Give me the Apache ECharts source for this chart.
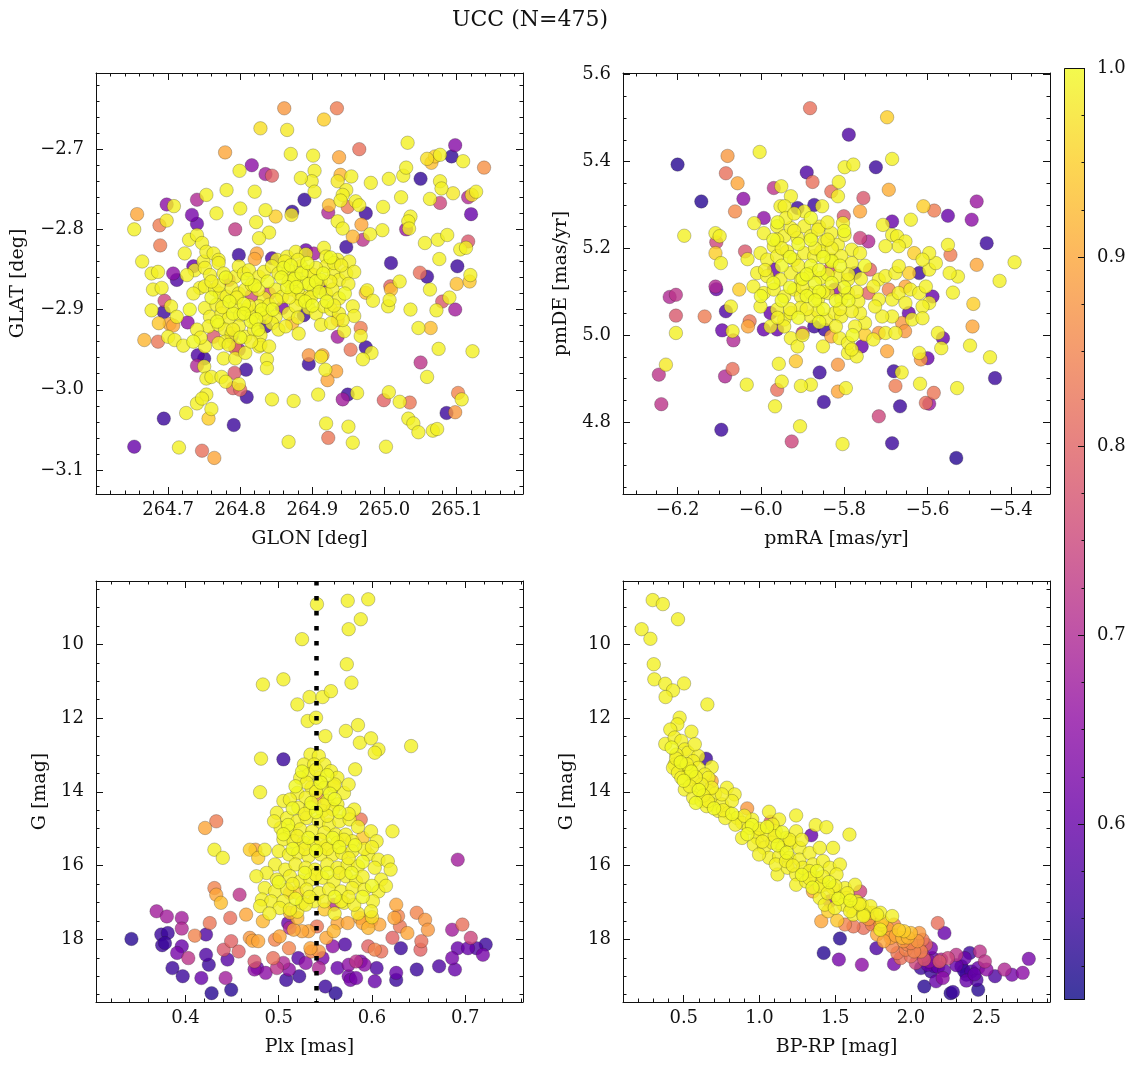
<!DOCTYPE html>
<html><head><meta charset="utf-8">
<script src="https://cdn.jsdelivr.net/npm/echarts@6/dist/echarts.min.js"></script>
<style>html,body{margin:0;padding:0;background:#fff}#c{width:1136px;height:1068px}</style>
</head><body><div id="c"></div>
<script>
// ---------------- DATA ----------------
const titleText = 'UCC (N=475)';
const probMin = 0.507, probMax = 1.0;
const plxCenter = 0.5425;
const glonTicks = [264.7, 264.8, 264.9, 265.0, 265.1];
const glatTicks = [-3.1, -3.0, -2.9, -2.8, -2.7];
const pmraTicks = [-6.2, -6.0, -5.8, -5.6, -5.4];
const pmdeTicks = [4.8, 5.0, 5.2, 5.4, 5.6];
const plxTicks = [0.4, 0.5, 0.6, 0.7];
const gTicks = [10, 12, 14, 16, 18];
const bprpTicks = [0.5, 1.0, 1.5, 2.0, 2.5];
const cbarTicks = [0.6, 0.7, 0.8, 0.9, 1.0];

// [GLON, GLAT, prob]
const posStars = [
[264.861,-2.649,0.88],[264.934,-2.649,0.84],[264.916,-2.663,0.95],[264.828,-2.674,0.97],[264.865,-2.676,0.98],[264.779,-2.704,0.9],[264.870,-2.706,0.99],[264.901,-2.708,0.99],[264.965,-2.700,0.82],[264.937,-2.710,0.9],[265.032,-2.692,0.99],[265.098,-2.695,0.64],[265.093,-2.709,0.54],[265.070,-2.709,0.95],[265.059,-2.712,0.97],[265.065,-2.717,0.93],[265.077,-2.707,0.99],[265.109,-2.715,0.99],[265.138,-2.723,0.87],[264.816,-2.720,0.65],[264.835,-2.731,0.68],[264.844,-2.733,0.8],[264.799,-2.727,0.99],[264.903,-2.727,0.99],[264.899,-2.740,0.99],[264.884,-2.736,0.99],[264.903,-2.753,0.99],[264.935,-2.740,0.98],[264.939,-2.732,0.92],[264.954,-2.734,0.99],[264.947,-2.751,0.99],[264.942,-2.757,0.99],[264.981,-2.742,0.99],[265.006,-2.737,0.99],[265.026,-2.733,0.99],[265.030,-2.723,0.99],[265.050,-2.737,0.54],[265.077,-2.740,0.99],[265.079,-2.749,0.99],[265.095,-2.755,0.98],[265.023,-2.760,0.99],[265.063,-2.762,0.99],[265.077,-2.767,0.75],[265.116,-2.760,0.7],[265.121,-2.757,0.97],[265.127,-2.753,0.99],[265.120,-2.781,0.6],[264.781,-2.751,0.99],[264.820,-2.753,0.99],[264.753,-2.757,0.99],[264.740,-2.763,0.7],[264.698,-2.769,0.65],[264.708,-2.771,0.99],[264.767,-2.780,0.99],[264.733,-2.782,0.62],[264.740,-2.793,0.6],[264.698,-2.789,0.98],[264.688,-2.795,0.84],[264.657,-2.781,0.9],[264.653,-2.800,0.99],[264.793,-2.800,0.73],[264.800,-2.774,0.99],[264.835,-2.776,0.99],[264.849,-2.784,0.95],[264.822,-2.791,0.99],[264.840,-2.804,0.99],[264.826,-2.811,0.99],[264.872,-2.778,0.54],[264.871,-2.782,0.98],[264.889,-2.763,0.54],[264.923,-2.770,0.93],[264.922,-2.779,0.7],[264.939,-2.764,0.99],[264.935,-2.790,0.99],[264.942,-2.799,0.99],[264.949,-2.772,0.84],[264.960,-2.765,0.99],[264.965,-2.770,0.99],[264.974,-2.780,0.55],[264.968,-2.794,0.9],[264.998,-2.772,0.99],[264.997,-2.801,0.99],[264.980,-2.806,0.99],[264.970,-2.813,0.72],[264.956,-2.809,0.92],[264.947,-2.822,0.55],[265.030,-2.800,0.67],[265.036,-2.784,0.99],[265.033,-2.790,0.99],[265.034,-2.799,0.99],[265.056,-2.817,0.99],[265.074,-2.813,0.99],[265.087,-2.807,0.99],[265.116,-2.815,0.78],[265.105,-2.825,0.99],[265.113,-2.823,0.99],[265.009,-2.842,0.55],[265.076,-2.837,0.99],[265.101,-2.846,0.55],[265.049,-2.854,0.82],[265.059,-2.859,0.55],[265.119,-2.857,0.99],[265.118,-2.865,0.94],[265.100,-2.868,0.93],[265.021,-2.865,0.99],[265.008,-2.871,0.8],[265.009,-2.875,0.93],[265.063,-2.875,0.99],[265.090,-2.885,0.99],[265.080,-2.890,0.78],[265.098,-2.900,0.68],[265.072,-2.901,0.99],[265.036,-2.900,0.99],[265.005,-2.896,0.99],[265.007,-2.888,0.99],[265.047,-2.923,0.99],[265.064,-2.923,0.93],[265.075,-2.949,0.99],[265.122,-2.952,0.99],[265.050,-2.966,0.72],[265.059,-2.984,0.99],[264.974,-2.879,0.92],[264.976,-2.876,0.99],[264.984,-2.889,0.99],[264.956,-2.896,0.99],[264.958,-2.908,0.99],[264.967,-2.923,0.84],[264.967,-2.933,0.99],[264.944,-2.927,0.99],[264.953,-2.950,0.83],[264.974,-2.947,0.55],[264.982,-2.954,0.99],[264.970,-2.962,0.99],[264.935,-2.934,0.68],[264.895,-2.957,0.88],[264.914,-2.957,0.9],[264.912,-2.959,0.98],[264.895,-2.968,0.55],[264.918,-2.975,0.99],[264.933,-2.977,0.9],[264.921,-2.988,0.9],[264.908,-3.006,0.99],[264.942,-3.012,0.68],[264.949,-3.006,0.55],[264.962,-3.004,0.99],[264.999,-3.013,0.8],[265.006,-3.003,0.99],[265.021,-3.015,0.99],[265.035,-3.016,0.83],[265.033,-3.036,0.99],[265.040,-3.042,0.99],[265.047,-3.053,0.99],[265.086,-3.029,0.55],[265.098,-3.028,0.88],[265.102,-3.004,0.85],[265.107,-3.012,0.99],[265.067,-3.051,0.99],[265.073,-3.049,0.99],[264.919,-3.042,0.99],[264.922,-3.060,0.83],[264.950,-3.046,0.99],[264.956,-3.066,0.99],[265.002,-3.071,0.99],[264.867,-3.065,0.99],[264.874,-3.014,0.99],[264.844,-3.012,0.99],[264.809,-3.009,0.55],[264.791,-3.044,0.55],[264.760,-3.024,0.99],[264.756,-3.036,0.95],[264.740,-3.017,0.99],[264.753,-3.006,0.99],[264.747,-3.011,0.99],[264.725,-3.029,0.99],[264.694,-3.036,0.55],[264.653,-3.071,0.6],[264.715,-3.072,0.99],[264.747,-3.076,0.82],[264.764,-3.085,0.9],
[264.664,-2.840,0.99],[264.677,-2.855,0.99],[264.686,-2.853,0.99],[264.679,-2.875,0.99],[264.691,-2.873,0.99],[264.689,-2.820,0.84],[264.723,-2.830,0.99],[264.729,-2.813,0.99],[264.740,-2.807,0.99],[264.747,-2.817,0.99],[264.707,-2.855,0.65],[264.712,-2.863,0.57],[264.735,-2.846,0.6],[264.737,-2.851,0.99],[264.749,-2.840,0.99],[264.726,-2.857,0.99],[264.677,-2.901,0.99],[264.695,-2.889,0.75],[264.694,-2.903,0.55],[264.704,-2.896,0.99],[264.712,-2.909,0.99],[264.702,-2.918,0.9],[264.707,-2.920,0.9],[264.687,-2.917,0.94],[264.727,-2.916,0.65],[264.667,-2.938,0.92],[264.686,-2.940,0.83],[264.700,-2.934,0.99],[264.709,-2.938,0.99],[264.721,-2.945,0.99],[264.741,-2.957,0.57],[264.750,-2.961,0.55],[264.740,-2.970,0.7],[264.750,-2.971,0.99],[264.753,-2.986,0.99],[264.760,-2.984,0.99],[264.774,-2.984,0.99],[264.780,-2.990,0.99],[264.792,-2.979,0.78],[264.790,-2.998,0.8],[264.800,-3.000,0.8],[264.798,-2.993,0.99],[264.808,-2.975,0.55],[264.777,-2.961,0.99],[264.793,-2.961,0.99],[264.793,-2.948,0.82],[264.837,-2.962,0.99],[264.837,-2.973,0.99],[264.826,-2.946,0.99],
[264.753,-2.828,0.99],[264.763,-2.830,0.99],[264.770,-2.838,0.99],[264.798,-2.832,0.55],[264.823,-2.830,0.9],[264.820,-2.837,0.9],[264.844,-2.836,0.57],[264.851,-2.838,0.99],[264.865,-2.834,0.99],[264.877,-2.828,0.99],[264.891,-2.831,0.99],[264.902,-2.830,0.68],[264.916,-2.823,0.99],[264.919,-2.834,0.99],[264.935,-2.838,0.99],[264.951,-2.840,0.99],[264.891,-2.826,0.6],
[264.751,-2.848,0.99],[264.758,-2.857,0.99],[264.770,-2.842,0.99],[264.777,-2.855,0.99],[264.784,-2.863,0.75],[264.793,-2.859,0.99],[264.798,-2.846,0.99],[264.805,-2.855,0.99],[264.812,-2.851,0.99],[264.826,-2.859,0.99],[264.833,-2.853,0.99],[264.844,-2.846,0.99],[264.853,-2.855,0.99],[264.867,-2.851,0.99],[264.877,-2.859,0.99],[264.884,-2.846,0.99],[264.895,-2.853,0.99],[264.902,-2.857,0.99],[264.912,-2.863,0.99],[264.919,-2.846,0.99],[264.930,-2.855,0.99],[264.937,-2.863,0.99],[264.947,-2.855,0.99],[264.958,-2.853,0.99],[264.930,-2.842,0.99],
[264.744,-2.873,0.99],[264.751,-2.871,0.99],[264.765,-2.875,0.99],[264.772,-2.880,0.99],[264.781,-2.884,0.99],[264.788,-2.873,0.99],[264.798,-2.880,0.99],[264.807,-2.875,0.99],[264.816,-2.882,0.75],[264.816,-2.869,0.99],[264.833,-2.886,0.99],[264.840,-2.880,0.75],[264.849,-2.875,0.99],[264.858,-2.884,0.99],[264.867,-2.865,0.99],[264.872,-2.875,0.99],[264.881,-2.880,0.99],[264.888,-2.867,0.99],[264.895,-2.884,0.99],[264.902,-2.875,0.99],[264.912,-2.873,0.6],[264.919,-2.880,0.99],[264.928,-2.875,0.99],[264.937,-2.886,0.99],[264.884,-2.888,0.99],
[264.751,-2.898,0.99],[264.758,-2.909,0.99],[264.767,-2.894,0.99],[264.774,-2.905,0.99],[264.784,-2.911,0.99],[264.793,-2.896,0.99],[264.800,-2.907,0.99],[264.809,-2.900,0.99],[264.816,-2.909,0.99],[264.826,-2.896,0.99],[264.830,-2.905,0.99],[264.840,-2.894,0.99],[264.849,-2.909,0.99],[264.858,-2.898,0.62],[264.867,-2.905,0.99],[264.877,-2.896,0.99],[264.888,-2.907,0.55],[264.895,-2.898,0.99],[264.905,-2.905,0.99],[264.916,-2.896,0.99],[264.926,-2.900,0.99],[264.937,-2.905,0.99],[264.942,-2.913,0.99],
[264.756,-2.921,0.99],[264.770,-2.919,0.99],[264.779,-2.925,0.99],[264.788,-2.930,0.99],[264.798,-2.921,0.99],[264.807,-2.934,0.99],[264.819,-2.925,0.99],[264.828,-2.932,0.99],[264.835,-2.921,0.55],[264.844,-2.917,0.99],[264.853,-2.925,0.99],[264.863,-2.921,0.99],[264.872,-2.917,0.92],[264.881,-2.930,0.99],[264.912,-2.919,0.99],[264.926,-2.917,0.99],[264.935,-2.913,0.9],[264.763,-2.934,0.78],[264.779,-2.940,0.99],[264.788,-2.934,0.65],
[264.751,-2.946,0.99],[264.770,-2.942,0.99],[264.784,-2.944,0.99],[264.798,-2.950,0.65],[264.807,-2.954,0.99],[264.828,-2.944,0.99],[264.840,-2.946,0.99],
[264.805,-2.893,1.0],[264.815,-2.915,1.0],[264.790,-2.905,1.0],[264.875,-2.862,1.0],[264.885,-2.855,1.0],[264.895,-2.868,1.0],[264.865,-2.872,1.0],[264.905,-2.865,1.0],[264.860,-2.848,1.0],[264.820,-2.870,1.0],[264.830,-2.900,1.0],[264.760,-2.885,1.0],[264.890,-2.890,1.0],
[264.785,-2.890,1.0],[264.795,-2.885,0.99],[264.805,-2.905,1.0],[264.812,-2.895,0.99],[264.822,-2.912,1.0],[264.775,-2.897,0.99],[264.768,-2.915,1.0],[264.790,-2.925,0.99],[264.800,-2.935,1.0],[264.815,-2.940,0.99],[264.825,-2.925,1.0],[264.835,-2.910,0.99],[264.845,-2.900,1.0],[264.770,-2.870,0.99],[264.780,-2.860,1.0],[264.760,-2.865,0.99],[264.810,-2.862,1.0],[264.825,-2.875,0.99],[264.838,-2.865,1.0],[264.850,-2.888,0.99],
[264.870,-2.845,1.0],[264.880,-2.838,0.99],[264.893,-2.842,1.0],[264.905,-2.848,0.99],[264.915,-2.855,1.0],[264.925,-2.865,0.99],[264.910,-2.878,1.0],[264.898,-2.885,0.99],[264.878,-2.872,1.0],[264.868,-2.885,0.99],[264.857,-2.860,1.0],[264.862,-2.840,0.99],[264.920,-2.890,1.0],[264.930,-2.895,0.99],[264.945,-2.880,1.0],[264.950,-2.868,0.99],[264.900,-2.895,1.0],[264.880,-2.910,0.99],[264.925,-2.835,1.0],[264.940,-2.845,0.99],
[264.735,-2.880,0.99],[264.730,-2.900,1.0],[264.740,-2.925,0.99],[264.735,-2.940,1.0],[264.745,-2.935,0.99]
];

// [pmRA, pmDE, prob]
const pmStars = [
[-5.882,5.523,0.82],[-5.697,5.502,0.95],[-5.789,5.462,0.57],[-6.200,5.393,0.53],[-6.080,5.413,0.88],[-6.003,5.422,0.99],[-6.084,5.373,0.82],[-6.056,5.350,0.9],[-5.890,5.375,0.57],[-5.876,5.353,0.82],[-5.799,5.387,0.99],[-5.778,5.393,0.99],[-5.813,5.353,0.99],[-5.815,5.320,0.99],[-5.831,5.331,0.82],[-5.724,5.387,0.55],[-5.685,5.406,0.99],[-5.693,5.335,0.91],[-5.754,5.316,0.78],[-6.143,5.308,0.53],[-6.042,5.314,0.65],[-6.062,5.285,0.86],[-6.016,5.258,0.99],[-6.184,5.229,0.99],[-6.109,5.235,0.99],[-6.099,5.228,0.99],[-6.107,5.214,0.75],[-6.109,5.189,0.95],[-6.096,5.166,0.99],[-6.038,5.193,0.78],[-6.032,5.175,0.99],[-5.969,5.339,0.72],[-5.951,5.343,0.99],[-5.928,5.320,0.99],[-5.953,5.297,0.99],[-5.943,5.297,0.99],[-5.912,5.293,0.55],[-5.896,5.285,0.99],[-5.872,5.300,0.55],[-5.853,5.297,0.99],[-5.762,5.285,0.9],[-5.801,5.274,0.78],[-5.803,5.258,0.99],[-5.742,5.216,0.7],[-5.762,5.224,0.75],[-5.685,5.262,0.6],[-5.707,5.254,0.99],[-5.640,5.266,0.99],[-5.610,5.297,0.95],[-5.584,5.287,0.84],[-5.551,5.275,0.6],[-5.494,5.266,0.65],[-5.482,5.308,0.67],[-5.458,5.212,0.55],[-5.551,5.208,0.99],[-5.545,5.185,0.84],[-5.482,5.162,0.9],[-5.391,5.168,0.99],[-5.427,5.125,0.99],[-5.527,5.135,0.99],[-5.547,5.143,0.99],[-5.539,5.098,0.99],[-5.490,5.072,0.95],[-5.492,5.020,0.9],[-5.498,4.976,0.99],[-5.450,4.949,0.99],[-5.438,4.901,0.55],[-5.529,4.878,0.99],[-5.585,4.867,0.83],[-5.604,4.844,0.82],[-5.596,4.842,0.67],[-5.531,4.717,0.53],[-5.717,4.813,0.75],[-5.666,4.836,0.55],[-5.677,4.883,0.84],[-5.681,4.917,0.55],[-5.662,4.914,0.99],[-5.618,4.888,0.99],[-5.685,4.751,0.55],[-5.906,4.790,0.99],[-5.926,4.755,0.75],[-5.804,4.749,0.99],[-6.095,4.782,0.55],[-6.239,4.841,0.72],[-6.245,4.909,0.72],[-6.228,4.932,0.98],[-6.086,4.905,0.7],[-6.068,4.922,0.82],[-6.034,4.886,0.99],[-5.966,4.836,0.99],[-5.961,4.874,0.82],[-5.950,4.893,0.99],[-5.849,4.846,0.55],[-5.815,4.870,0.9],[-5.796,4.878,0.99],[-5.859,4.914,0.55],[-5.880,4.886,0.99],[-5.904,4.883,0.99],[-5.916,4.940,0.94],[-5.957,4.934,0.99],[-6.204,5.093,0.72],[-6.219,5.088,0.7],[-6.204,5.045,0.78],[-6.204,5.005,0.99],[-6.135,5.043,0.84],[-6.109,5.112,0.7],[-6.107,5.106,0.6],[-6.084,5.055,0.57],[-6.072,5.066,0.99],[-6.093,5.011,0.6],[-6.068,5.009,0.99],[-6.066,4.988,0.7],[-6.052,5.105,0.95],[-6.031,5.020,0.9],[-6.027,5.032,0.83],
[-5.738,5.151,0.8],[-5.717,5.128,0.99],[-5.701,5.136,0.99],[-5.677,5.143,0.99],[-5.669,5.159,0.99],[-5.644,5.143,0.95],[-5.620,5.143,0.55],[-5.596,5.151,0.99],[-5.580,5.166,0.99],[-5.596,5.189,0.99],[-5.612,5.174,0.99],[-5.685,5.231,0.99],[-5.673,5.228,0.99],[-5.653,5.216,0.99],[-5.669,5.205,0.99],[-5.632,5.189,0.95],[-5.701,5.205,0.99],[-5.742,5.097,0.8],[-5.730,5.112,0.99],[-5.717,5.082,0.99],[-5.693,5.105,0.85],[-5.685,5.082,0.99],[-5.669,5.097,0.99],[-5.653,5.112,0.9],[-5.641,5.105,0.99],[-5.620,5.097,0.99],[-5.604,5.112,0.99],[-5.588,5.089,0.6],[-5.596,5.074,0.99],[-5.612,5.066,0.99],[-5.653,5.074,0.99],[-5.645,5.051,0.6],[-5.637,5.036,0.99],[-5.661,5.028,0.88],[-5.685,5.043,0.99],[-5.709,5.043,0.99],[-5.726,5.066,0.99],[-5.717,5.005,0.88],[-5.701,5.005,0.99],[-5.677,5.005,0.99],[-5.654,5.009,0.88],[-5.697,4.963,0.9],[-5.620,4.959,0.99],[-5.616,4.944,0.88],[-5.600,4.947,0.6],[-5.575,5.005,0.99],[-5.563,4.993,0.6],[-5.567,4.970,0.99],[-5.612,5.039,0.99],[-5.758,4.974,0.6],[-5.750,5.001,0.95],[-5.730,4.990,0.99],[-5.750,5.028,0.99],[-5.762,5.051,0.99],[-5.815,4.932,0.88],[-5.791,4.959,0.99],[-5.770,4.951,0.99],
[-5.993,5.235,0.99],[-5.969,5.205,0.99],[-5.961,5.251,0.99],[-5.944,5.228,0.99],[-5.928,5.247,0.99],[-5.912,5.224,0.99],[-5.896,5.251,0.99],[-5.880,5.228,0.99],[-5.863,5.243,0.99],[-5.847,5.216,0.99],[-5.831,5.235,0.99],[-5.815,5.208,0.99],[-5.799,5.231,0.99],[-5.782,5.197,0.99],[-5.762,5.189,0.99],[-6.001,5.189,0.99],[-5.985,5.174,0.99],[-5.961,5.182,0.99],[-5.937,5.193,0.99],[-5.920,5.174,0.99],[-5.896,5.189,0.99],[-5.872,5.182,0.99],[-5.855,5.193,0.99],[-5.831,5.174,0.99],[-5.807,5.182,0.99],[-5.782,5.166,0.99],[-6.009,5.143,0.99],[-5.985,5.136,0.99],[-5.969,5.151,0.6],[-5.953,5.128,0.99],[-5.928,5.143,0.99],[-5.904,5.128,0.99],[-5.880,5.143,0.99],[-5.855,5.132,0.99],[-5.835,5.151,0.75],[-5.815,5.136,0.99],[-5.791,5.128,0.99],[-5.774,5.143,0.55],[-6.018,5.112,0.99],[-5.993,5.097,0.99],[-5.969,5.105,0.99],[-5.944,5.089,0.99],[-5.920,5.105,0.99],[-5.904,5.089,0.99],[-5.880,5.097,0.99],[-5.863,5.082,0.99],[-5.839,5.097,0.99],[-5.823,5.105,0.65],[-5.807,5.082,0.99],[-5.791,5.097,0.99],[-5.766,5.078,0.99],[-6.001,5.066,0.99],[-5.977,5.051,0.6],[-5.961,5.059,0.99],[-5.944,5.036,0.99],[-5.928,5.051,0.99],[-5.904,5.063,0.99],[-5.880,5.043,0.99],[-5.863,5.055,0.99],[-5.843,5.036,0.99],[-5.823,5.051,0.99],[-5.807,5.043,0.99],[-5.782,5.055,0.99],[-5.993,5.013,0.6],[-5.977,5.020,0.99],[-5.961,5.013,0.6],[-5.944,5.020,0.99],[-5.928,4.993,0.99],[-5.912,4.974,0.99],[-5.900,5.005,0.7],[-5.872,5.020,0.55],[-5.847,5.013,0.55],[-5.851,4.974,0.99],[-5.831,4.997,0.9],[-5.811,4.993,0.99],[-5.791,4.982,0.99],[-5.782,4.967,0.99],[-5.774,5.020,0.99],[-5.961,5.220,0.99],[-5.993,5.270,0.65],
[-5.870,5.120,1.0],[-5.860,5.100,1.0],[-5.840,5.140,1.0],[-5.890,5.090,1.0],[-5.820,5.080,1.0],[-5.900,5.130,1.0],[-5.930,5.110,1.0],[-5.850,5.060,1.0],[-5.800,5.110,1.0],[-5.950,5.160,1.0],[-5.880,5.160,1.0],[-5.830,5.170,1.0],[-5.910,5.210,1.0],[-5.860,5.250,0.98],[-5.940,5.270,0.99],
[-5.970,5.220,1.0],[-5.950,5.200,0.99],[-5.930,5.180,1.0],[-5.910,5.160,0.99],[-5.890,5.140,1.0],[-5.870,5.200,0.99],[-5.850,5.180,1.0],[-5.830,5.200,0.99],[-5.810,5.160,1.0],[-5.790,5.140,0.99],[-5.950,5.080,1.0],[-5.930,5.060,0.99],[-5.910,5.040,1.0],[-5.890,5.060,0.99],[-5.870,5.080,1.0],[-5.850,5.100,0.99],[-5.830,5.120,1.0],[-5.810,5.060,0.99],[-5.790,5.080,1.0],[-5.770,5.100,0.99],[-5.970,5.120,1.0],[-5.990,5.150,0.99],[-5.960,5.260,1.0],[-5.920,5.280,0.99],[-5.880,5.270,1.0],[-5.840,5.260,0.99],[-5.800,5.240,1.0],[-5.900,5.000,0.99],[-5.860,5.030,1.0],[-5.820,5.020,0.99],[-5.780,5.000,1.0],[-5.760,5.130,0.99],[-5.750,5.160,1.0],[-5.960,5.040,0.99],[-6.000,5.090,1.0],[-5.920,5.240,0.99],[-5.880,5.220,1.0],[-5.840,5.220,0.99],[-5.860,5.150,1.0],[-5.900,5.110,0.99]
];

// [Plx, G, prob]
const plxStars = [
[0.541,8.91,0.99],[0.574,8.82,0.99],[0.596,8.78,0.99],[0.588,9.32,0.99],[0.575,9.59,0.99],[0.525,9.86,0.99],[0.573,10.54,0.99],[0.578,11.04,0.99],[0.505,10.95,0.99],[0.483,11.09,0.99],[0.533,11.43,0.99],[0.547,11.43,0.99],[0.556,11.27,0.99],[0.520,11.63,0.99],[0.531,12.08,0.99],[0.540,11.99,0.99],[0.572,12.35,0.99],[0.585,12.19,0.99],[0.550,12.49,0.99],[0.587,12.67,0.99],[0.599,12.55,0.99],[0.607,12.85,0.99],[0.603,12.94,0.99],[0.642,12.76,0.99],[0.481,13.10,0.99],[0.505,13.12,0.55],[0.582,13.39,0.99],[0.480,14.01,0.99],
[0.534,12.99,0.99],[0.543,13.03,0.99],[0.527,13.26,0.99],[0.538,13.26,0.99],[0.549,13.26,0.99],[0.556,13.44,0.99],[0.532,13.53,0.99],[0.523,13.62,0.99],[0.544,13.62,0.99],[0.563,13.62,0.99],[0.535,13.89,0.99],[0.549,13.89,0.99],[0.559,13.85,0.99],[0.570,14.03,0.99],[0.520,14.03,0.99],[0.529,14.16,0.99],[0.541,14.16,0.85],[0.552,14.25,0.99],[0.563,14.34,0.99],[0.505,14.25,0.99],[0.512,14.21,0.99],[0.521,14.43,0.99],[0.534,14.43,0.99],[0.547,14.52,0.99],[0.558,14.48,0.99],[0.581,14.48,0.99],[0.498,14.57,0.99],[0.509,14.71,0.99],[0.520,14.80,0.99],[0.530,14.71,0.99],[0.543,14.80,0.99],[0.554,14.89,0.99],[0.565,14.80,0.99],[0.576,14.75,0.99],[0.588,14.75,0.83],[0.502,14.98,0.99],[0.512,15.07,0.99],[0.523,15.02,0.99],[0.536,15.07,0.99],[0.549,15.11,0.99],[0.561,15.16,0.99],[0.572,15.16,0.99],[0.599,15.07,0.99],[0.622,15.07,0.99],[0.505,15.29,0.99],[0.516,15.34,0.99],[0.527,15.38,0.99],[0.538,15.43,0.99],[0.550,15.48,0.99],[0.563,15.38,0.99],[0.579,15.34,0.99],[0.590,15.25,0.94],[0.605,15.34,0.99],[0.431,15.57,0.99],[0.440,15.79,0.99],[0.469,15.57,0.95],[0.475,15.57,0.9],[0.485,15.57,0.99],[0.478,15.79,0.95],[0.500,15.61,0.99],[0.511,15.70,0.99],[0.521,15.66,0.99],[0.532,15.75,0.99],[0.545,15.70,0.99],[0.558,15.70,0.99],[0.568,15.66,0.99],[0.579,15.61,0.99],[0.596,15.70,0.99],[0.496,15.97,0.99],[0.507,16.11,0.99],[0.518,15.97,0.99],[0.529,16.06,0.99],[0.539,16.11,0.99],[0.552,15.97,0.99],[0.563,16.06,0.99],[0.574,15.97,0.99],[0.585,16.02,0.99],[0.607,15.84,0.99],[0.617,15.88,0.99],[0.620,16.11,0.99],[0.603,16.06,0.99],[0.487,16.20,0.99],[0.476,16.29,0.99],[0.498,16.38,0.99],[0.512,16.29,0.99],[0.523,16.43,0.99],[0.534,16.38,0.99],[0.547,16.33,0.99],[0.559,16.43,0.99],[0.572,16.29,0.99],[0.583,16.43,0.99],[0.610,16.38,0.99],[0.485,16.61,0.99],[0.496,16.70,0.99],[0.509,16.65,0.99],[0.520,16.74,0.95],[0.530,16.65,0.99],[0.543,16.74,0.99],[0.554,16.65,0.99],[0.567,16.70,0.99],[0.579,16.61,0.99],[0.592,16.65,0.99],[0.607,16.70,0.99],[0.482,16.92,0.99],[0.492,16.97,0.99],[0.505,16.97,0.99],[0.512,16.74,0.9],[0.525,17.01,0.99],[0.538,16.97,0.99],[0.549,16.97,0.99],[0.559,17.06,0.7],[0.570,17.01,0.99],[0.581,17.06,0.99],[0.601,16.97,0.99],[0.480,17.10,0.99],[0.501,17.15,0.99],[0.512,17.19,0.99],[0.529,17.06,0.99],[0.549,17.19,0.94],[0.599,17.24,0.99],[0.567,16.97,0.99],
[0.525,13.45,1.0],[0.540,13.40,0.99],[0.552,13.55,1.0],[0.530,13.75,0.99],[0.545,13.75,1.0],[0.560,13.80,0.99],[0.518,13.85,1.0],[0.540,14.00,0.99],[0.555,14.05,1.0],[0.575,13.80,0.99],
[0.515,14.45,1.0],[0.528,14.60,0.99],[0.540,14.55,1.0],[0.552,14.65,0.99],[0.565,14.55,1.0],[0.575,14.60,0.99],[0.535,14.30,1.0],[0.548,14.35,0.99],[0.560,14.20,1.0],[0.585,14.95,0.99],[0.510,14.90,1.0],[0.495,14.80,0.99],
[0.505,15.15,1.0],[0.520,15.20,0.99],[0.532,15.25,1.0],[0.545,15.30,0.99],[0.558,15.25,1.0],[0.570,15.30,0.99],[0.582,15.45,1.0],[0.592,15.55,0.99],[0.515,15.55,1.0],[0.528,15.55,0.99],[0.540,15.60,1.0],[0.552,15.55,0.99],[0.565,15.50,1.0],[0.575,15.80,0.99],[0.590,15.90,1.0],[0.600,15.50,0.99],
[0.500,16.45,1.0],[0.515,16.50,0.99],[0.528,16.20,1.0],[0.540,16.25,0.99],[0.552,16.20,1.0],[0.565,16.20,0.99],[0.578,16.20,1.0],[0.590,16.30,0.99],[0.600,16.55,1.0],[0.615,16.55,0.99],[0.518,16.90,1.0],[0.533,16.85,0.99],[0.560,16.85,1.0],[0.575,16.85,0.99],[0.590,16.85,1.0],
[0.490,17.30,0.99],[0.520,17.25,0.98],[0.560,17.30,0.99],[0.585,17.30,0.98],[0.600,17.40,0.97],
[0.433,14.80,0.84],[0.421,14.98,0.9],[0.431,16.61,0.85],[0.433,16.79,0.9],[0.438,17.01,0.93],[0.458,16.79,0.72],[0.465,17.33,0.9],[0.483,17.51,0.92],[0.448,17.42,0.82],[0.426,17.56,0.83],[0.369,17.24,0.68],[0.380,17.38,0.68],[0.396,17.42,0.68],[0.396,17.71,0.7],[0.410,17.90,0.85],[0.422,17.87,0.57],[0.374,17.87,0.55],[0.381,17.83,0.55],[0.342,17.99,0.53],[0.375,18.16,0.55],[0.378,18.10,0.55],[0.396,18.19,0.6],[0.391,18.37,0.62],[0.403,18.51,0.72],[0.386,18.78,0.55],[0.397,19.00,0.55],[0.417,19.05,0.6],[0.422,18.42,0.57],[0.425,18.69,0.55],[0.428,19.46,0.53],[0.449,19.37,0.53],[0.443,19.05,0.68],[0.441,18.28,0.78],[0.449,18.05,0.8],[0.457,18.33,0.8],[0.445,18.55,0.58],[0.472,18.04,0.9],[0.478,18.05,0.9],[0.474,18.60,0.78],[0.477,18.78,0.6],[0.486,18.91,0.65],[0.474,18.82,0.65],[0.496,18.01,0.85],[0.501,17.92,0.9],[0.494,18.51,0.82],[0.505,18.64,0.7],[0.508,19.10,0.55],[0.498,18.78,0.72],[0.511,18.24,0.85],[0.521,18.51,0.58],[0.522,19.00,0.55],[0.529,18.64,0.65],[0.534,18.24,0.9],[0.535,18.33,0.85],[0.543,18.33,0.88],[0.541,17.65,0.83],[0.532,17.78,0.9],[0.525,17.78,0.9],[0.516,17.74,0.9],[0.512,17.69,0.7],[0.510,17.56,0.6],[0.520,17.42,0.92],[0.512,17.28,0.92],[0.551,17.96,0.9],[0.559,17.78,0.92],[0.563,17.56,0.9],[0.547,18.51,0.62],[0.550,19.28,0.55],[0.561,19.46,0.53],[0.558,18.19,0.65],[0.571,18.14,0.57],[0.575,18.69,0.65],[0.575,19.00,0.62],[0.577,19.10,0.62],[0.583,18.60,0.72],[0.583,19.05,0.62],[0.592,18.69,0.65],[0.587,17.42,0.9],[0.590,17.56,0.9],[0.596,17.69,0.92],[0.599,17.51,0.88],[0.608,17.60,0.9],[0.574,17.56,0.9],[0.596,18.19,0.8],[0.603,18.28,0.85],[0.610,18.33,0.82],[0.605,18.78,0.57],[0.603,19.14,0.6],[0.622,17.96,0.8],[0.624,17.42,0.9],[0.626,17.06,0.9],[0.628,17.37,0.85],[0.630,17.65,0.83],[0.631,18.24,0.55],[0.626,18.91,0.6],[0.626,19.10,0.55],[0.638,17.83,0.9],[0.648,17.28,0.85],[0.648,18.82,0.55],[0.652,18.28,0.8],[0.653,18.05,0.82],[0.657,17.47,0.88],[0.660,17.74,0.88],[0.672,18.73,0.57],[0.686,17.74,0.68],[0.686,18.51,0.62],[0.689,18.82,0.6],[0.692,18.24,0.6],[0.697,17.60,0.82],[0.706,17.96,0.75],[0.703,18.24,0.6],[0.712,18.24,0.57],[0.719,18.42,0.62],[0.722,18.14,0.55],[0.692,15.84,0.68],[0.588,18.60,0.62],[0.563,18.78,0.6],[0.511,18.82,0.65],[0.469,17.96,0.88],[0.543,18.78,0.7]
];

// [BP-RP, G, prob]
const cmdStars = [
[0.295,8.80,0.99],[0.362,8.91,0.99],[0.462,9.32,0.99],[0.222,9.59,0.99],[0.280,9.85,0.99],[0.302,10.54,0.99],[0.306,10.95,0.99],[0.378,11.07,0.99],[0.502,11.06,0.99],[0.429,11.25,0.99],[0.380,11.43,0.99],[0.656,11.63,0.99],[0.473,11.99,0.99],[0.458,12.17,0.99],[0.411,12.31,0.99],[0.551,12.37,0.99],[0.378,12.70,0.99],[0.440,12.53,0.99],[0.484,12.62,0.99],[0.507,12.85,0.99],[0.529,12.94,0.99],[0.451,12.99,0.99],[0.596,13.03,0.99],[0.647,13.10,0.55],[0.440,13.26,0.99],[0.496,13.26,0.99],[0.562,13.17,0.99],[0.685,13.33,0.99],[0.429,13.35,0.99],[0.462,13.48,0.99],[0.529,13.53,0.99],[0.596,13.35,0.99],[0.562,13.67,0.99],[0.640,13.53,0.99],[0.685,13.71,0.9],[0.663,13.62,0.99],[0.507,13.94,0.99],[0.596,13.89,0.99],[0.663,13.98,0.99],[0.707,14.05,0.99],[0.785,13.89,0.99],[0.836,14.07,0.99],[0.562,14.16,0.99],[0.618,14.25,0.99],[0.685,14.34,0.99],[0.752,14.34,0.99],[0.818,14.25,0.99],[0.729,14.52,0.99],[0.796,14.57,0.99],[0.852,14.71,0.99],[0.919,14.45,0.88],[0.885,14.84,0.99],[0.952,14.75,0.99],[1.063,14.54,0.99],[1.130,14.75,0.99],[1.242,14.64,0.99],[1.074,14.81,0.8],[0.930,14.98,0.99],[0.997,15.07,0.99],[0.986,15.25,0.99],[1.052,15.16,0.99],[1.108,15.07,0.99],[1.175,15.25,0.99],[1.242,15.07,0.99],[0.963,15.43,0.99],[1.030,15.52,0.99],[1.086,15.38,0.99],[1.152,15.52,0.99],[1.208,15.38,0.99],[1.264,15.52,0.99],[1.371,14.90,0.99],[1.442,14.96,0.99],[1.342,15.18,0.6],[1.594,15.16,0.99],[1.063,15.79,0.99],[1.130,15.75,0.99],[1.197,15.79,0.99],[1.264,15.84,0.99],[1.331,15.66,0.99],[1.398,15.52,0.99],[1.486,15.52,0.99],[1.119,16.24,0.99],[1.186,16.06,0.99],[1.242,16.24,0.99],[1.286,16.06,0.99],[1.353,15.97,0.99],[1.420,15.88,0.99],[1.464,16.06,0.99],[1.531,15.97,0.99],[1.242,16.52,0.99],[1.308,16.43,0.99],[1.375,16.33,0.99],[1.431,16.52,0.99],[1.509,16.24,0.99],[1.564,16.61,0.99],[1.631,16.52,0.99],[1.665,16.70,0.75],[1.353,16.70,0.9],[1.398,16.88,0.99],[1.464,16.97,0.7],[1.431,17.06,0.99],[1.509,16.83,0.99],[1.575,16.88,0.99],[1.642,16.97,0.99],[1.553,17.06,0.99],[1.609,17.15,0.99],[1.676,17.06,0.99],[1.732,17.10,0.99],[1.620,17.33,0.99],[1.798,17.28,0.99],[1.876,17.37,0.99],[1.408,17.51,0.9],[1.513,17.49,0.94],[1.564,17.60,0.85],[1.620,17.65,0.83],[1.687,17.69,0.82],[1.743,17.60,0.85],[1.798,17.74,0.99],[1.776,17.87,0.9],[1.843,17.69,0.9],[1.888,17.60,0.85],[1.865,17.96,0.9],[1.821,18.05,0.9],[1.876,18.19,0.85],[1.943,17.96,0.92],[1.954,17.78,0.95],[1.999,17.83,0.93],[2.055,17.83,0.88],[2.043,18.05,0.88],[1.966,18.28,0.85],[1.910,18.37,0.83],[1.932,18.51,0.82],[1.999,18.46,0.82],[2.066,18.33,0.85],[2.099,18.14,0.8],[2.132,18.24,0.62],[2.088,18.55,0.78],[2.032,18.64,0.75],[2.110,18.69,0.6],[2.143,18.51,0.6],[2.177,17.56,0.82],[2.221,17.83,0.6],[2.188,18.60,0.78],[2.244,18.51,0.75],[2.299,18.42,0.72],[2.355,18.51,0.6],[2.388,18.37,0.55],[2.455,18.33,0.72],[2.333,18.73,0.55],[2.366,18.96,0.55],[2.399,18.87,0.57],[2.444,18.78,0.6],[2.488,18.60,0.72],[2.499,18.82,0.65],[2.433,19.10,0.57],[2.366,19.12,0.6],[2.555,19.00,0.57],[2.618,18.82,0.7],[2.667,18.96,0.62],[2.738,18.91,0.65],[2.778,18.53,0.62],[2.444,19.37,0.53],[2.262,19.46,0.53],[2.277,19.43,0.55],[2.088,19.28,0.53],[2.166,19.14,0.6],[2.210,19.05,0.65],[2.066,18.78,0.55],[2.132,18.87,0.55],[2.155,18.73,0.57],[1.531,17.98,0.53],[1.424,18.37,0.53],[1.524,18.55,0.62],[1.676,18.69,0.65],[1.772,18.24,0.57],[1.888,18.67,0.62],[1.754,17.56,0.75],[1.865,17.87,0.7],[1.977,18.14,0.85],[2.021,18.33,0.85],[2.077,18.01,0.83],[1.687,17.33,0.99],[1.743,17.28,0.95],[1.810,17.51,0.95],[1.497,17.15,0.99],[1.453,17.24,0.95],
[0.997,15.70,0.99],[1.108,15.97,0.99],[1.175,15.88,0.99],[0.885,15.25,0.99],[0.841,14.89,0.99],[0.774,14.71,0.99],[0.651,14.39,0.99],[0.752,14.07,0.99],[0.685,13.89,0.99],[0.618,13.80,0.99],[0.540,13.39,0.99],[0.484,13.62,0.99],[0.573,12.71,0.99],[1.086,14.89,0.99],[1.331,16.15,0.99],[1.398,16.56,0.99],[1.486,16.61,0.99],[1.598,17.24,0.99],[1.687,17.37,0.99],[1.776,17.33,0.99],
[0.42,12.80,1.0],[0.45,13.10,0.99],[0.48,13.20,1.0],[0.52,13.25,0.99],[0.55,13.45,1.0],[0.58,13.60,0.99],[0.50,13.70,1.0],[0.54,13.85,0.99],[0.60,13.95,1.0],[0.63,14.10,0.99],[0.58,14.30,1.0],[0.66,14.25,0.99],
[0.70,14.45,1.0],[0.76,14.50,0.99],[0.82,14.60,1.0],[0.90,14.65,0.99],[0.95,14.90,1.0],[1.00,15.00,0.99],[1.05,14.95,1.0],[1.10,15.20,0.99],[1.15,15.10,1.0],[1.20,15.30,0.99],[0.92,15.15,1.0],[1.02,15.35,0.99],[1.12,15.45,1.0],[1.28,15.30,0.99],
[1.18,15.65,1.0],[1.22,16.00,0.99],[1.28,16.25,1.0],[1.33,16.35,0.99],[1.38,16.15,1.0],[1.42,16.30,0.99],[1.46,16.45,1.0],[1.50,16.55,0.99],[1.35,16.60,1.0],[1.45,16.75,0.99],[1.52,16.90,1.0],[1.58,16.75,0.99],[1.60,16.95,1.0],[1.66,17.05,0.99],[1.70,17.25,0.98],
[1.72,17.45,0.88],[1.80,17.60,0.9],[1.85,17.80,0.88],[1.90,17.90,0.9],[1.95,18.05,0.88],[2.00,18.10,0.85],[2.05,18.20,0.8],[2.08,18.45,0.7],[2.12,18.60,0.65],[2.18,18.75,0.6],[2.22,18.85,0.6],[2.30,18.70,0.6],[2.35,18.85,0.55],[2.42,18.95,0.6],[2.20,18.55,0.7],[1.98,17.95,0.92],[1.92,17.75,0.95]
];

const plasma = ['#0d0887','#41049d','#6a00a8','#8f0da4','#b12a90','#cc4778','#e16462','#f2844b','#fca636','#fcce25','#f0f921'];

// ---------------- CHART ----------------
const FONT = 'DejaVu Serif';
const INK = '#111';
const W = 427, H = 421;
const panels = [
  {left:96, top:73, data:posStars, x:[264.600,265.192], xt:glonTicks, xs:0.02, xd:1, xn:'GLON [deg]',
   y:[-3.130,-2.605], yt:glatTicks, ys:0.02, yd:1, yn:'GLAT [deg]', yGap:68, inv:false},
  {left:623, top:73, data:pmStars, x:[-6.331,-5.306], xt:pmraTicks, xs:0.05, xd:1, xn:'pmRA [mas/yr]',
   y:[4.634,5.604], yt:pmdeTicks, ys:0.05, yd:1, yn:'pmDE [mas/yr]', yGap:52, inv:false},
  {left:96, top:581, data:plxStars, x:[0.304,0.762], xt:plxTicks, xs:0.02, xd:1, xn:'Plx [mas]',
   y:[8.283,19.70], yt:gTicks, ys:0.5, yd:0, yn:'G [mag]', yGap:46, inv:true, vline:true},
  {left:623, top:581, data:cmdStars, x:[0.099,2.918], xt:bprpTicks, xs:0.1, xd:1, xn:'BP-RP [mag]',
   y:[8.283,19.70], yt:gTicks, ys:0.5, yd:0, yn:'G [mag]', yGap:46, inv:true}
];

function minorVals(lo, hi, step, majors) {
  const out = [];
  const a = Math.min(lo, hi), b = Math.max(lo, hi);
  const k0 = Math.ceil(a / step - 1e-9), k1 = Math.floor(b / step + 1e-9);
  for (let k = k0; k <= k1; k++) {
    const v = +(k * step).toFixed(6);
    if (!majors.some(m => Math.abs(m - v) < 1e-7)) out.push(v);
  }
  return out;
}
function fmt(dec) { return v => Number(v).toFixed(dec).replace('-', '\u2212'); }

const grids = [], xAxes = [], yAxes = [], series = [];
const lineOn = {show:true, onZero:false, lineStyle:{color:INK, width:1}};
const lineOff = {show:false, onZero:false};
const tick = (vals, len) => ({show:true, inside:true, length:len, lineStyle:{color:INK, width:1}, customValues:vals});
const labelBase = {fontFamily:FONT, fontSize:18, color:INK};
const nameStyle = {fontFamily:FONT, fontSize:19, color:INK};

function addPanel(p) {
  const g = grids.length;
  grids.push({left:p.left, top:p.top, width:W, height:H});
  grids.push({left:p.left, top:p.top, width:W, height:H});
  const xMin = minorVals(p.x[0], p.x[1], p.xs, p.xt);
  const yMin = minorVals(p.y[0], p.y[1], p.ys, p.yt);
  const xb = {type:'value', min:p.x[0], max:p.x[1], splitLine:{show:false}, z:5};
  const yb = {type:'value', min:p.y[0], max:p.y[1], inverse:!!p.inv, splitLine:{show:false}, z:5};
  const xi = xAxes.length, yi = yAxes.length;
  xAxes.push(Object.assign({}, xb, {gridIndex:g, position:'bottom', axisLine:lineOn, axisTick:tick(p.xt, 7),
    axisLabel:Object.assign({}, labelBase, {margin:7, customValues:p.xt, formatter:fmt(p.xd)}),
    name:p.xn, nameLocation:'middle', nameGap:36, nameTextStyle:nameStyle}));
  xAxes.push(Object.assign({}, xb, {gridIndex:g, position:'top', axisLine:lineOn, axisTick:tick(p.xt, 7), axisLabel:{show:false}}));
  xAxes.push(Object.assign({}, xb, {gridIndex:g+1, position:'bottom', axisLine:lineOff, axisTick:tick(xMin, 3.5), axisLabel:{show:false}}));
  xAxes.push(Object.assign({}, xb, {gridIndex:g+1, position:'top', axisLine:lineOff, axisTick:tick(xMin, 3.5), axisLabel:{show:false}}));
  yAxes.push(Object.assign({}, yb, {gridIndex:g, position:'left', axisLine:lineOn, axisTick:tick(p.yt, 7),
    axisLabel:Object.assign({}, labelBase, {margin:12, customValues:p.yt, formatter:fmt(p.yd)}),
    name:p.yn, nameLocation:'middle', nameGap:p.yGap, nameRotate:90, nameTextStyle:nameStyle}));
  yAxes.push(Object.assign({}, yb, {gridIndex:g, position:'right', axisLine:lineOn, axisTick:tick(p.yt, 7), axisLabel:{show:false}}));
  yAxes.push(Object.assign({}, yb, {gridIndex:g+1, position:'left', axisLine:lineOff, axisTick:tick(yMin, 3.5), axisLabel:{show:false}}));
  yAxes.push(Object.assign({}, yb, {gridIndex:g+1, position:'right', axisLine:lineOff, axisTick:tick(yMin, 3.5), axisLabel:{show:false}}));
  const sorted = p.data.slice().sort((a, b) => a[2] - b[2]);
  const s = {type:'scatter', xAxisIndex:xi, yAxisIndex:yi, data:sorted, symbol:'circle', symbolSize:13.5,
    itemStyle:{opacity:0.8, borderColor:'rgba(30,30,30,0.55)', borderWidth:0.6},
    emphasis:{disabled:true}, silent:true, z:2};
  if (p.vline) {
    s.markLine = {silent:true, symbol:['none','none'], label:{show:false}, z:6, animation:false,
      lineStyle:{color:'#000', width:4.5, type:[4.5, 10.5], cap:'butt', opacity:1},
      emphasis:{disabled:true}, data:[{xAxis:plxCenter}]};
  }
  series.push(s);
}
panels.forEach(addPanel);

// colorbar axes
const CB = {left:1064, top:68, width:21, height:932};
const cg = grids.length;
grids.push(Object.assign({}, CB));
grids.push(Object.assign({}, CB));
const cbMinor = minorVals(probMin, probMax, 0.025, cbarTicks);
xAxes.push({type:'value', gridIndex:cg, min:0, max:1, show:false});
xAxes.push({type:'value', gridIndex:cg+1, min:0, max:1, show:false});
yAxes.push({type:'value', gridIndex:cg, position:'right', min:probMin, max:probMax, z:10, splitLine:{show:false},
  axisLine:lineOff, axisTick:tick(cbarTicks, 7),
  axisLabel:Object.assign({}, labelBase, {margin:12, customValues:cbarTicks, formatter:fmt(1)})});
yAxes.push({type:'value', gridIndex:cg+1, position:'right', min:probMin, max:probMax, z:10, splitLine:{show:false},
  axisLine:lineOff, axisTick:tick(cbMinor, 3.5), axisLabel:{show:false}});

const option = {
  animation:false,
  backgroundColor:'#fff',
  grid:grids, xAxis:xAxes, yAxis:yAxes, series:series,
  visualMap:{type:'continuous', show:false, min:probMin, max:probMax, dimension:2,
    seriesIndex:[0,1,2,3], inRange:{color:plasma}},
  graphic:[
    {type:'rect', z:1, silent:true, shape:{x:CB.left, y:CB.top, width:CB.width, height:CB.height},
     style:{fill:new echarts.graphic.LinearGradient(0,1,0,0, plasma.map((c,i)=>({offset:i/(plasma.length-1), color:c}))), opacity:0.8}},
    {type:'rect', z:20, silent:true, shape:{x:CB.left+0.5, y:CB.top+0.5, width:CB.width-1, height:CB.height-1},
     style:{fill:'none', stroke:INK, lineWidth:1}},
    {type:'text', z:20, silent:true, x:530, y:20,
     style:{text:titleText, fontFamily:FONT, fontSize:22, fill:INK, align:'center', verticalAlign:'middle'}}
  ]
};
const chart = echarts.init(document.getElementById('c'), null, {renderer:'canvas'});
chart.setOption(option);
</script>
</body></html>
